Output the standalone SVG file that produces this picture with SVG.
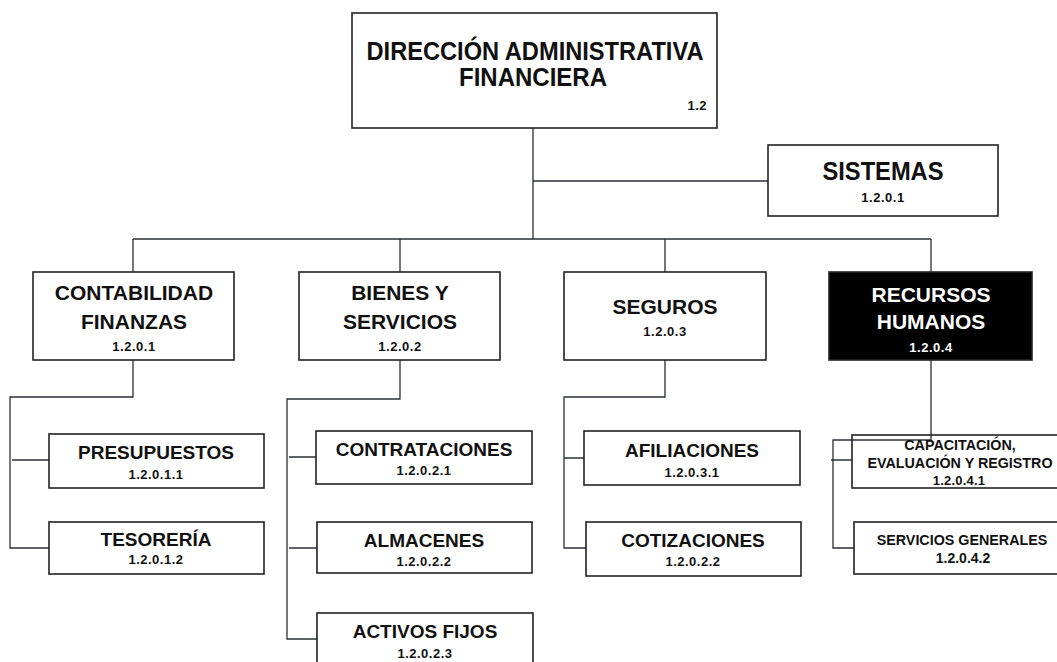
<svg xmlns="http://www.w3.org/2000/svg" width="1057" height="662" viewBox="0 0 1057 662">
<style>
.box{fill:#fff;stroke:#222;stroke-width:1.6}
.dark{fill:#000;stroke:#222;stroke-width:1.6}
.ln{fill:none;stroke:#2b2f36;stroke-width:1.3}
text{font-family:"Liberation Sans",Arial,sans-serif;font-weight:bold;text-anchor:middle;fill:#111}
.t24{font-size:25px}
.t21{font-size:21px}
.t19{font-size:19px}
.t14{font-size:14.3px}
.code{font-size:13px;letter-spacing:0.5px}
.w{fill:#fff}
</style>
<rect width="1057" height="662" fill="#fff"/>
<g id="connectors">
<path class="ln" d="M533 128V239M533 181H768M133 239H931M133 239V272M400 239V272M665 239V272M931 239V272"/>
<path class="ln" d="M133 360V397H10V548H49M12 460H49"/>
<path class="ln" d="M400 360V399H287V639H317M289 457H316M289 548H317"/>
<path class="ln" d="M665 360V397H564V548H586M564 458H584"/>
<path class="ln" d="M931 360V440H833V548H854M831 460H852"/>
</g>
<g id="n-direccion">
<rect class="box" x="352" y="13" width="365" height="115"/>
<text class="t24" x="535" y="60" textLength="337" lengthAdjust="spacingAndGlyphs">DIRECCIÓN ADMINISTRATIVA</text>
<text class="t24" x="533" y="86" textLength="148" lengthAdjust="spacingAndGlyphs">FINANCIERA</text>
<text class="code" x="707" y="110" style="text-anchor:end">1.2</text>
</g>
<g id="n-sistemas">
<rect class="box" x="768" y="145" width="230" height="71"/>
<text class="t24" x="883" y="180" textLength="121" lengthAdjust="spacingAndGlyphs">SISTEMAS</text>
<text class="code" x="883" y="202">1.2.0.1</text>
</g>
<g id="n-contabilidad">
<rect class="box" x="33" y="272" width="201" height="88"/>
<text class="t21" x="134" y="300">CONTABILIDAD</text>
<text class="t21" x="134" y="329">FINANZAS</text>
<text class="code" x="134" y="351">1.2.0.1</text>
</g>
<g id="n-bienes">
<rect class="box" x="299" y="272" width="201" height="88"/>
<text class="t21" x="400" y="300">BIENES Y</text>
<text class="t21" x="400" y="329">SERVICIOS</text>
<text class="code" x="400" y="351">1.2.0.2</text>
</g>
<g id="n-seguros">
<rect class="box" x="564" y="272" width="202" height="88"/>
<text class="t21" x="665" y="314">SEGUROS</text>
<text class="code" x="665" y="336">1.2.0.3</text>
</g>
<g id="n-rrhh">
<rect class="dark" x="829" y="272" width="203" height="88"/>
<text class="t21 w" x="931" y="302">RECURSOS</text>
<text class="t21 w" x="931" y="329">HUMANOS</text>
<text class="code w" x="931" y="352">1.2.0.4</text>
</g>
<g id="n-presupuestos">
<rect class="box" x="49" y="434" width="215" height="54"/>
<text class="t19" x="156" y="459">PRESUPUESTOS</text>
<text class="code" x="156" y="479">1.2.0.1.1</text>
</g>
<g id="n-tesoreria">
<rect class="box" x="49" y="522" width="215" height="52"/>
<text class="t19" x="156" y="546">TESORERÍA</text>
<text class="code" x="156" y="564">1.2.0.1.2</text>
</g>
<g id="n-contrataciones">
<rect class="box" x="316" y="431" width="216" height="53"/>
<text class="t19" x="424" y="456">CONTRATACIONES</text>
<text class="code" x="424" y="475">1.2.0.2.1</text>
</g>
<g id="n-almacenes">
<rect class="box" x="317" y="522" width="215" height="51"/>
<text class="t19" x="424" y="547">ALMACENES</text>
<text class="code" x="424" y="566">1.2.0.2.2</text>
</g>
<g id="n-activos">
<rect class="box" x="317" y="613" width="216" height="60"/>
<text class="t19" x="425" y="638">ACTIVOS FIJOS</text>
<text class="code" x="425" y="658">1.2.0.2.3</text>
</g>
<g id="n-afiliaciones">
<rect class="box" x="584" y="431" width="216" height="54"/>
<text class="t19" x="692" y="457">AFILIACIONES</text>
<text class="code" x="692" y="477">1.2.0.3.1</text>
</g>
<g id="n-cotizaciones">
<rect class="box" x="586" y="522" width="215" height="54"/>
<text class="t19" x="693" y="547">COTIZACIONES</text>
<text class="code" x="693" y="566">1.2.0.2.2</text>
</g>
<g id="n-capacitacion">
<rect class="box" x="852" y="435" width="220" height="53"/>
<path class="ln" d="M931 435V440H852"/>
<text class="t14" x="960" y="450">CAPACITACIÓN,</text>
<text class="t14" x="960" y="468">EVALUACIÓN Y REGISTRO</text>
<text class="code" x="959" y="485" style="letter-spacing:0.2px">1.2.0.4.1</text>
</g>
<g id="n-servicios">
<rect class="box" x="854" y="522" width="220" height="52"/>
<text class="t14" x="962" y="545">SERVICIOS GENERALES</text>
<text x="963" y="563" style="font-size:14px">1.2.0.4.2</text>
</g>
</svg>
